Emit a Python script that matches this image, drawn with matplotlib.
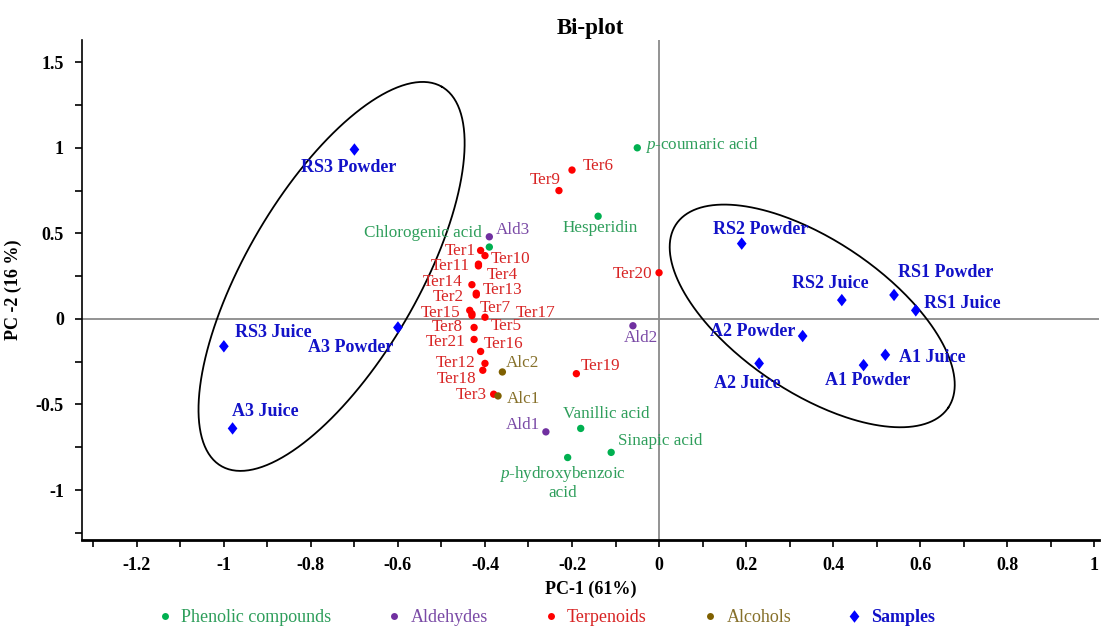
import numpy as np
import matplotlib
matplotlib.use("Agg")
from matplotlib import pyplot as plt
from matplotlib.lines import Line2D
from matplotlib.ticker import MultipleLocator, FuncFormatter

sample_names = ["RS3 Powder", "RS3 Juice", "A3 Powder", "A3 Juice",
                "RS2 Powder", "RS2 Juice", "RS1 Powder", "RS1 Juice",
                "A2 Powder", "A2 Juice", "A1 Powder", "A1 Juice"]
sample_pc1 = [-0.70, -1.00, -0.60, -0.98, 0.19, 0.42, 0.54, 0.59, 0.33, 0.23, 0.47, 0.52]
sample_pc2 = [0.99, -0.16, -0.05, -0.64, 0.44, 0.11, 0.14, 0.05, -0.10, -0.26, -0.27, -0.21]

phenolic_names = [r"$p$-coumaric acid", "Hesperidin", "Chlorogenic acid",
                  "Vanillic acid", "Sinapic acid", "$p$-hydroxybenzoic\nacid"]
phenolic_pc1 = [-0.05, -0.14, -0.39, -0.18, -0.11, -0.21]
phenolic_pc2 = [1.00, 0.60, 0.42, -0.64, -0.78, -0.81]

aldehyde_names = ["Ald3", "Ald2", "Ald1"]
aldehyde_pc1 = [-0.39, -0.06, -0.26]
aldehyde_pc2 = [0.48, -0.04, -0.66]

alcohol_names = ["Alc2", "Alc1"]
alcohol_pc1 = [-0.36, -0.37]
alcohol_pc2 = [-0.31, -0.45]

terpenoid_names = ["Ter1", "Ter2", "Ter3", "Ter4", "Ter5", "Ter6", "Ter7", "Ter8",
                   "Ter9", "Ter10", "Ter11", "Ter12", "Ter13", "Ter14", "Ter15",
                   "Ter16", "Ter17", "Ter18", "Ter19", "Ter20", "Ter21"]
terpenoid_pc1 = [-0.41, -0.42, -0.38, -0.415, -0.43, -0.20, -0.43, -0.425,
                 -0.23, -0.40, -0.415, -0.40, -0.42, -0.43, -0.435,
                 -0.41, -0.40, -0.405, -0.19, 0.00, -0.425]
terpenoid_pc2 = [0.40, 0.14, -0.44, 0.31, 0.02, 0.87, 0.03, -0.05,
                 0.75, 0.37, 0.32, -0.26, 0.15, 0.20, 0.05,
                 -0.19, 0.01, -0.30, -0.32, 0.27, -0.12]

# label offsets in pixels (dx, dy, ha)
label_pos = {
    "RS3 Powder": (-6, -18, "center"), "RS3 Juice": (11, 14, "left"),
    "A3 Powder": (-5, -20, "right"), "A3 Juice": (-1, 17, "left"),
    "RS2 Powder": (19, 14, "center"), "RS2 Juice": (-12, 17, "center"),
    "RS1 Powder": (4, 22, "left"), "RS1 Juice": (8, 7, "left"),
    "A2 Powder": (-7, 5, "right"), "A2 Juice": (-12, -20, "center"),
    "A1 Powder": (4, -15, "center"), "A1 Juice": (14, -3, "left"),
    r"$p$-coumaric acid": (8, 3, "left"), "Hesperidin": (2, -12, "center"),
    "Chlorogenic acid": (-8, 14, "right"), "Vanillic acid": (26, 14, "center"),
    "Sinapic acid": (7, 11, "left"), "$p$-hydroxybenzoic\nacid": (-5, -25, "center"),
    "Ald3": (7, 7, "left"), "Ald2": (8, -12, "center"), "Ald1": (-6, 7, "right"),
    "Alc2": (3, 9, "left"), "Alc1": (9, -3, "left"),
    "Ter1": (-5, -1, "right"), "Ter10": (6, -3, "left"), "Ter11": (-9, -2, "right"),
    "Ter4": (8, -9, "left"), "Ter14": (-9, 3, "right"), "Ter13": (6, 3, "left"),
    "Ter2": (-12, -2, "right"), "Ter15": (-9, -3, "right"), "Ter7": (8, 6, "left"),
    "Ter17": (31, 4, "left"), "Ter5": (19, -11, "left"), "Ter8": (-11, 0, "right"),
    "Ter21": (-9, -3, "right"), "Ter16": (3, 7, "left"), "Ter12": (-9, 0, "right"),
    "Ter18": (-6, -9, "right"), "Ter3": (-7, -1, "right"), "Ter6": (11, 4, "left"),
    "Ter9": (2, 11, "right"), "Ter20": (-7, -1, "right"), "Ter19": (4, 8, "left"),
}

plt.rcParams["font.family"] = ["Liberation Serif", "DejaVu Serif"]
plt.rcParams["mathtext.fontset"] = "custom"
plt.rcParams["mathtext.rm"] = "Liberation Serif"
plt.rcParams["mathtext.it"] = "Liberation Serif:italic"
plt.rcParams["axes.unicode_minus"] = False

diamond = [(0, 1), (0.78, 0), (0, -1), (-0.78, 0), (0, 1)]

groups = [
    (phenolic_names, phenolic_pc1, phenolic_pc2, "#00B050", "#2E9E5B", "o", 28, "normal"),
    (aldehyde_names, aldehyde_pc1, aldehyde_pc2, "#7030A0", "#7A4AA6", "o", 28, "normal"),
    (terpenoid_names, terpenoid_pc1, terpenoid_pc2, "#FF0000", "#D82424", "o", 28, "normal"),
    (alcohol_names, alcohol_pc1, alcohol_pc2, "#7F6000", "#86702A", "o", 28, "normal"),
    (sample_names, sample_pc1, sample_pc2, "#0000FF", "#1212C8", diamond, 80, "bold"),
]

fig = plt.figure(figsize=(11.01, 6.28), dpi=100)
ax = fig.add_axes([82 / 1101, 88 / 628, 1017 / 1101, 500 / 628])

ax.axhline(0, color="#8a8a8a", lw=1.3, zorder=1)
ax.axvline(0, color="#8a8a8a", lw=1.3, zorder=1)


def draw_ellipse(center, major, minor):
    t = np.linspace(0, 2 * np.pi, 300)
    xs = center[0] + major[0] * np.cos(t) + minor[0] * np.sin(t)
    ys = center[1] + major[1] * np.cos(t) + minor[1] * np.sin(t)
    ax.plot(xs, ys, color="black", lw=1.3, zorder=2)


draw_ellipse((-0.7525, 0.2484), (0.2537, 1.1081), (-0.1707, 0.2531))
draw_ellipse((0.352, 0.0175), (0.3126, -0.5363), (0.0977, 0.3685))

for names, xs, ys, mcol, tcol, marker, size, weight in groups:
    ax.scatter(xs, ys, s=size, color=mcol, marker=marker, edgecolors="none", zorder=3)
    for name, x, y in zip(names, xs, ys):
        dx, dy, ha = label_pos[name]
        ax.annotate(name, (x, y), xytext=(dx, dy), textcoords="offset pixels",
                    ha=ha, va="center", multialignment="center", color=tcol,
                    fontsize=13 if weight == "bold" else 12.3, fontweight=weight,
                    linespacing=1.05, zorder=4)

ax.set_xlim(-1.326, 1.011)
ax.set_ylim(-1.292, 1.63)
ax.xaxis.set_major_locator(MultipleLocator(0.2))
ax.xaxis.set_minor_locator(MultipleLocator(0.1))
ax.yaxis.set_major_locator(MultipleLocator(0.5))
ax.yaxis.set_minor_locator(MultipleLocator(0.25))
fmt = FuncFormatter(lambda v, p: "%g" % round(v, 2))
ax.xaxis.set_major_formatter(fmt)
ax.yaxis.set_major_formatter(fmt)
ax.tick_params(which="both", direction="out", length=5, width=1.2, color="black")
ax.tick_params(axis="x", pad=7)
ax.tick_params(axis="y", pad=8)
for lab in ax.get_xticklabels() + ax.get_yticklabels():
    lab.set_fontweight("bold")
    lab.set_fontsize(13)

ax.spines["top"].set_visible(False)
ax.spines["right"].set_visible(False)
ax.spines["bottom"].set_linewidth(2.0)
ax.spines["left"].set_linewidth(1.2)

ax.set_xlabel("PC-1 (61%)", fontsize=13, fontweight="bold", labelpad=5)
ax.set_ylabel("PC -2 (16 %)", fontsize=13, fontweight="bold", labelpad=10)
ax.set_title("Bi-plot", fontsize=16.5, fontweight="bold", pad=4)

handles = []
legend_labels = ["Phenolic compounds", "Aldehydes", "Terpenoids", "Alcohols", "Samples"]
for (names, xs, ys, mcol, tcol, marker, size, weight), lab in zip(groups, legend_labels):
    handles.append(Line2D([], [], ls="none", marker=marker, color=mcol,
                          markersize=5 if marker == "o" else 9, markeredgewidth=0))
leg = fig.legend(handles, legend_labels, loc="center", bbox_to_anchor=(546 / 1101, 10 / 628),
                 ncol=5, frameon=False, fontsize=13, handlelength=0.8, handletextpad=0.5,
                 columnspacing=3.1, borderpad=0)
for txt, g in zip(leg.get_texts(), groups):
    txt.set_color(g[4])
leg.get_texts()[-1].set_fontweight("bold")

fig.savefig("out.png", dpi=100)
